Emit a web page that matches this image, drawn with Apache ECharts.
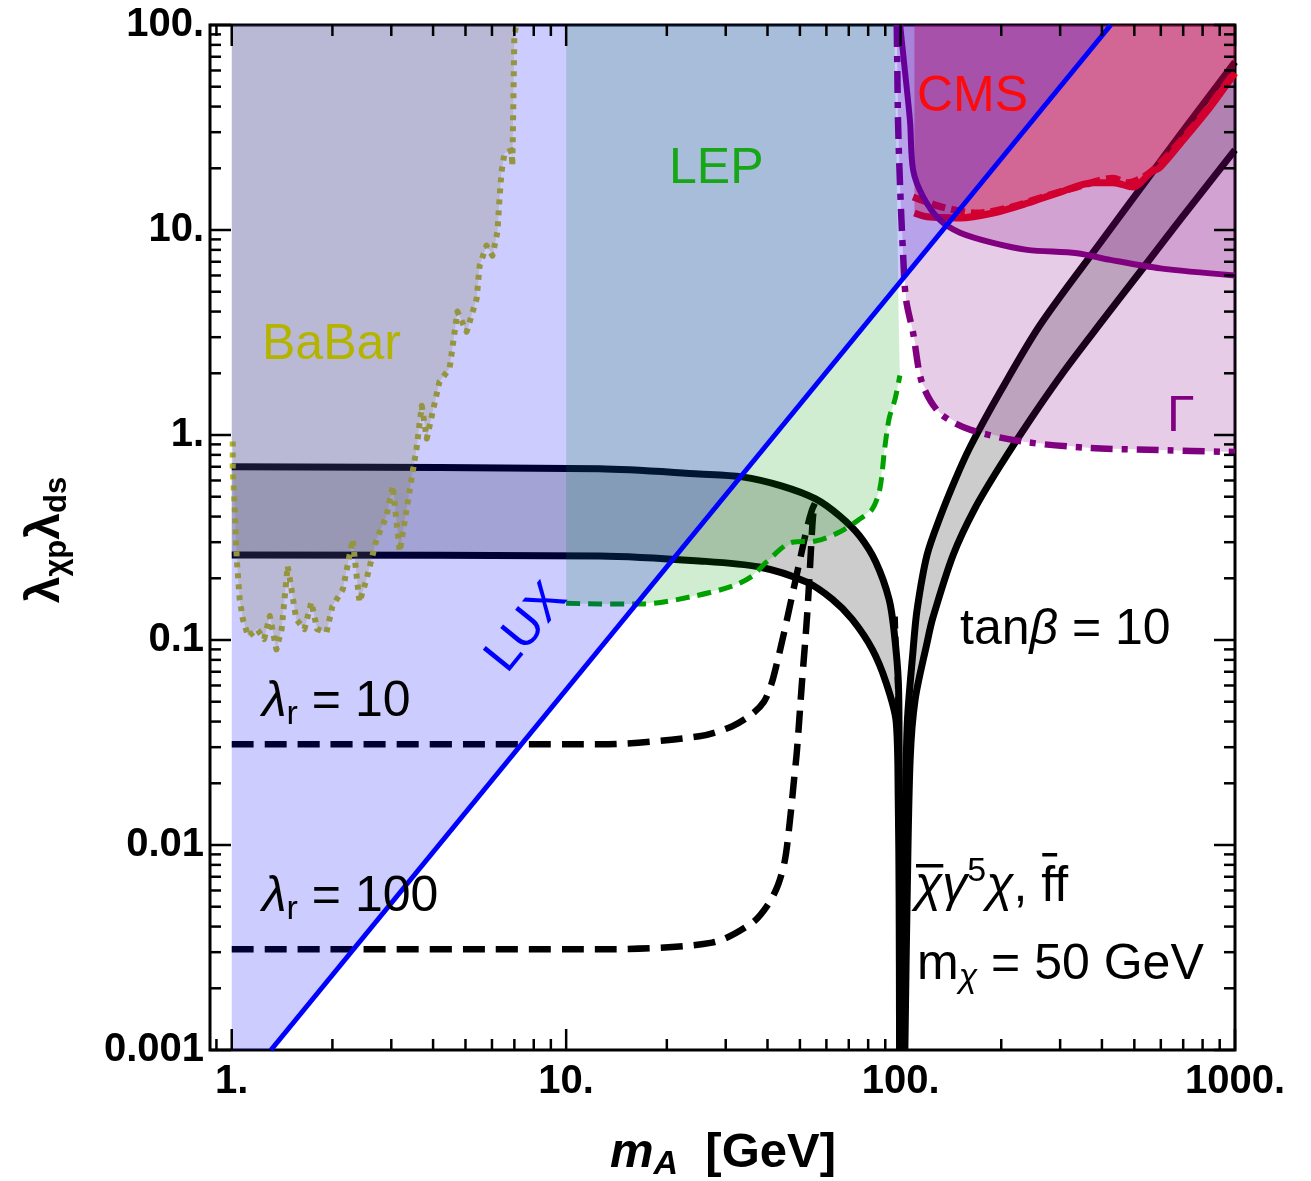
<!DOCTYPE html>
<html>
<head>
<meta charset="utf-8">
<script src="https://cdn.jsdelivr.net/npm/echarts@6/dist/echarts.min.js"></script>
<style>
  html, body { margin: 0; padding: 0; background: #fff; }
  #chart { width: 1311px; height: 1181px; }
</style>
</head>
<body>
<div id="chart"></div>
<script>
/* axis ranges and ticks */
const xMin = 0.861, xMax = 1000;
const yMin = 0.001, yMax = 100;
const xTicks = [1, 10, 100, 1000];
const xTickLabels = ['1.', '10.', '100.', '1000.'];
const yTicks = [0.001, 0.01, 0.1, 1, 10, 100];
const yTickLabels = ['0.001', '0.01', '0.1', '1.', '10.', '100.'];
const xMinor = [0.9, 2, 3, 4, 5, 6, 7, 8, 9, 20, 30, 40, 50, 60, 70, 80, 90,
  200, 300, 400, 500, 600, 700, 800, 900];
const yMinor = [0.002, 0.003, 0.004, 0.005, 0.006, 0.007, 0.008, 0.009,
  0.02, 0.03, 0.04, 0.05, 0.06, 0.07, 0.08, 0.09,
  0.2, 0.3, 0.4, 0.5, 0.6, 0.7, 0.8, 0.9,
  2, 3, 4, 5, 6, 7, 8, 9,
  20, 30, 40, 50, 60, 70, 80, 90];

/* LUX bound (straight line on log-log) */
const luxLine = [[1.31, 0.001], [425, 100]];

/* BaBar bound (dotted) */
const babarLine = [
  [1.007, 0.93], [1.007, 0.68], [1.02, 0.45], [1.035, 0.25], [1.056, 0.158], [1.08, 0.126],
  [1.12, 0.104], [1.19, 0.113], [1.25, 0.101], [1.3, 0.131], [1.36, 0.09], [1.41, 0.113],
  [1.47, 0.23], [1.56, 0.126], [1.65, 0.113], [1.73, 0.153], [1.8, 0.113], [1.92, 0.109],
  [2.0, 0.146], [2.15, 0.177], [2.3, 0.31], [2.41, 0.153], [2.53, 0.198], [2.71, 0.31],
  [2.9, 0.4], [3.03, 0.565], [3.18, 0.27], [3.4, 0.53], [3.57, 0.86], [3.7, 1.39],
  [3.83, 0.96], [3.99, 1.3], [4.18, 1.82], [4.48, 2.11], [4.73, 4.0], [5.04, 3.19],
  [5.4, 4.63], [5.51, 6.7], [5.78, 8.4], [6.02, 7.5], [6.23, 9.8], [6.32, 14.3],
  [6.41, 19.3], [6.54, 23.7], [6.87, 24.5], [6.9, 20.5], [6.92, 26], [7.0, 90], [7.1, 100]
];

/* LEP bound (green dashed) and its right edge */
const lepLine = [
  [10, 0.151], [12.6, 0.15], [17.1, 0.15], [23.4, 0.162], [31.4, 0.183], [36, 0.205],
  [39.7, 0.24], [47.5, 0.30], [55.7, 0.304], [65.7, 0.336], [75.5, 0.389], [82.3, 0.435],
  [86.7, 0.546], [89.6, 0.857], [92.4, 1.2], [96.3, 1.5], [99.5, 1.95]
];
const lepRightEdge = [[98.7, 3.7], [97, 30], [95.7, 100]];

/* relic band below the resonance */
const bandLowUpper = [
  [1, 0.70], [12.6, 0.684], [25, 0.646], [33.6, 0.625], [44, 0.565], [55.7, 0.488],
  [65.7, 0.403], [75.5, 0.321], [84.3, 0.24], [92.4, 0.158], [95.7, 0.109], [98.5, 0.062],
  [99.0, 0.030], [99.4, 0.01], [99.6, 0.001]
];
const bandLowLower = [
  [1, 0.26], [12.6, 0.257], [25, 0.243], [37.8, 0.227], [52.2, 0.192], [62.5, 0.158],
  [71.7, 0.126], [82.3, 0.09], [90.5, 0.062], [97, 0.04], [98.4, 0.0167], [99, 0.0054],
  [99.3, 0.001]
];
/* relic band above the resonance */
const bandHighLeft = [
  [101.5, 0.001], [103.2, 0.0085], [104.6, 0.0377], [109, 0.0894], [112, 0.14], [120, 0.26],
  [131.3, 0.398], [145.5, 0.603], [161.4, 0.874], [198.4, 1.62], [261.3, 3.44], [395, 8.64],
  [520, 15.85], [685, 29.1], [1000, 66]
];
const bandHighRight = [
  [103, 0.001], [104.6, 0.0054], [106.8, 0.026], [110.5, 0.051], [120, 0.097], [125, 0.129],
  [143.6, 0.26], [167, 0.44], [198.4, 0.706], [243.9, 1.184], [310.5, 2.08], [403, 3.64],
  [520, 6.24], [685, 11.2], [1000, 24.6]
];

/* lambda_r dashed curves */
const lambda10 = [
  [1, 0.031], [12.6, 0.031], [25, 0.0339], [31.4, 0.038], [36, 0.0436], [39.0, 0.0499],
  [41.0, 0.0603], [42.7, 0.0773], [44.8, 0.108], [47.3, 0.162], [50.0, 0.2456],
  [52.5, 0.352], [54.3, 0.43], [55.5, 0.466]
];
const lambda100 = [
  [1, 0.0031], [12.6, 0.0031], [27.3, 0.00334], [36.0, 0.00417], [40.1, 0.0051],
  [43.0, 0.00638], [45.1, 0.00845], [46.7, 0.01325], [48.0, 0.0207], [49.0, 0.029],
  [50.7, 0.0617], [52.5, 0.129], [53.6, 0.227], [54.7, 0.398], [55.5, 0.466]
];
const resonanceDash = [[96.5, 0.13], [98.3, 0.04], [99.0, 0.01], [99.3, 0.001]];

/* width bounds (Gamma) */
const gammaDashDot = [
  [97.4, 100], [97.8, 60], [98.3, 33], [99.7, 16], [101.7, 7.7], [103.8, 4.6], [109, 3.15],
  [116, 1.79], [131, 1.28], [162, 1.06], [236, 0.925], [371, 0.864], [589, 0.845], [1000, 0.826]
];
const gammaSolid = [
  [99.7, 100], [103, 60], [106.7, 34], [109, 19.6], [116.8, 14.5], [131, 11.2], [150.6, 9.7],
  [189, 8.65], [239, 8.0], [337, 7.7], [424, 7.15], [598, 6.5], [1000, 6.0]
];

/* CMS bounds */
const cmsSolid = [
  [110, 12.1], [120, 11.6], [150.6, 11.45], [189, 12.1], [239, 13.5], [300, 15.3],
  [377, 17.0], [432, 17.0], [496, 16.2], [558, 19.0], [598, 20.3], [700, 27.5],
  [843, 39.8], [1000, 58.3]
];
const cmsDashed = [
  [109, 14.5], [134, 12.9], [169, 12.1], [213, 12.9], [267, 14.5], [337, 16.2], [432, 17.9],
  [476, 17.0], [532, 18.1], [598, 21.2], [700, 28.1], [843, 40.7], [1000, 59.6]
];

const F = "'Liberation Sans', Arial, Helvetica, sans-serif";

function region(pts, fill, z) {
    return {
        type: 'custom', z: z, silent: true, clip: true,
        data: pts,
        renderItem: function (params, api) {
            if (params.dataIndex !== 0) return null;
            return {
                type: 'polygon',
                shape: { points: pts.map(function (p) { return api.coord(p); }) },
                style: { fill: fill }
            };
        }
    };
}

function curve(pts, color, width, dash, z, smooth) {
    return {
        type: 'line', data: pts, z: z, silent: true, symbol: 'none', showSymbol: false,
        smooth: smooth || 0,
        lineStyle: { color: color, width: width, type: dash || 'solid', cap: 'butt', join: 'round' }
    };
}

function xTickSeries(values, len) {
    return {
        type: 'custom', z: 20, silent: true, clip: false,
        data: values.map(function (v) { return [v, 1]; }),
        renderItem: function (params, api) {
            const cs = params.coordSys;
            const px = api.coord([api.value(0), 1])[0];
            const st = { stroke: '#000', lineWidth: 2.5 };
            return { type: 'group', children: [
                { type: 'line', shape: { x1: px, y1: cs.y + cs.height, x2: px, y2: cs.y + cs.height - len }, style: st },
                { type: 'line', shape: { x1: px, y1: cs.y, x2: px, y2: cs.y + len }, style: st }
            ] };
        }
    };
}

function yTickSeries(values, len) {
    return {
        type: 'custom', z: 20, silent: true, clip: false,
        data: values.map(function (v) { return [1, v]; }),
        renderItem: function (params, api) {
            const cs = params.coordSys;
            const py = api.coord([1, api.value(1)])[1];
            const st = { stroke: '#000', lineWidth: 2.5 };
            return { type: 'group', children: [
                { type: 'line', shape: { x1: cs.x, y1: py, x2: cs.x + len, y2: py }, style: st },
                { type: 'line', shape: { x1: cs.x + cs.width, y1: py, x2: cs.x + cs.width - len, y2: py }, style: st }
            ] };
        }
    };
}

function tickText(ticks, labels) {
    return function (v) {
        for (let i = 0; i < ticks.length; i++) {
            if (Math.abs(Math.log10(v / ticks[i])) < 1e-6) return labels[i];
        }
        return '';
    };
}

/* regions */
const luxRegion = [[1, yMin]].concat(luxLine, [[1, yMax]]);
const babarRegion = babarLine.concat([[1, yMax], [1, babarLine[0][1]]]);
const lepRegion = [[lepLine[0][0], yMax]].concat(lepLine, lepRightEdge);
const bandLow = bandLowUpper.concat(bandLowLower.slice().reverse());
const bandHigh = bandHighLeft.concat(bandHighRight.slice().reverse());
const gammaWide = gammaDashDot.concat([[xMax, yMax]]);
const gammaNarrow = gammaSolid.concat([[xMax, yMax]]);
const cmsRegion = [[cmsSolid[0][0], yMax]].concat(cmsSolid, [[xMax, yMax]]);

const S = 50, SS = 34;
function tok(extra) {
    return Object.assign({ fontSize: S, lineHeight: S, fontFamily: F, fill: '#000', color: '#000' }, extra || {});
}
const labelRich = {
    n: tok(),
    i: tok({ fontStyle: 'italic' }),
    sub: tok({ fontSize: SS, lineHeight: SS, padding: [25, 0, 0, 0] }),
    subi: tok({ fontSize: SS, lineHeight: SS, fontStyle: 'italic', padding: [25, 0, 0, 0] }),
    sup: tok({ fontSize: SS, lineHeight: SS, padding: [0, 0, 31, 0] })
};

function label(x, y, text, color, opts) {
    const o = opts || {};
    return {
        type: 'text', x: x, y: y, rotation: o.rotation || 0, z: 100, silent: true,
        style: {
            text: text, rich: o.rich, fill: color, fontSize: o.size || S, fontFamily: F,
            fontWeight: o.weight || 'normal',
            align: o.align || 'left', verticalAlign: 'middle'
        }
    };
}

/* overbars for the operator label, measured from the same fonts */
const mctx = document.createElement('canvas').getContext('2d');
function textWidth(str, font) { mctx.font = font; return mctx.measureText(str).width; }
const opX = 915;
const fItalic = 'italic ' + S + 'px ' + F, fReg = S + 'px ' + F, fSup = SS + 'px ' + F;
const chiW = textWidth('χ', fItalic);
const fStart = opX + textWidth('χγ', fItalic) + textWidth('5', fSup) + textWidth('χ', fItalic) + textWidth(', ', fReg);
const fW = textWidth('f', fReg);

const chart = echarts.init(document.getElementById('chart'), null, { renderer: 'canvas' });
chart.setOption({
    animation: false,
    backgroundColor: '#fff',
    grid: { left: 210, top: 25, width: 1025, height: 1025, show: true, borderColor: '#000', borderWidth: 3, backgroundColor: 'transparent' },
    xAxis: {
        type: 'log', logBase: 10, min: xMin, max: xMax,
        axisLine: { show: false }, axisTick: { show: false }, splitLine: { show: false },
        axisLabel: {
            formatter: tickText(xTicks, xTickLabels), margin: 12, color: '#000',
            fontSize: 40, fontWeight: 'bold', fontFamily: F, showMinLabel: true, showMaxLabel: true
        }
    },
    yAxis: {
        type: 'log', logBase: 10, min: yMin, max: yMax,
        axisLine: { show: false }, axisTick: { show: false }, splitLine: { show: false },
        axisLabel: {
            formatter: tickText(yTicks, yTickLabels), margin: 6, color: '#000',
            fontSize: 40, fontWeight: 'bold', fontFamily: F, showMinLabel: true, showMaxLabel: true
        }
    },
    series: [
        region(bandLow, 'rgba(0,0,0,0.2)', 1),
        region(bandHigh, 'rgba(0,0,0,0.2)', 1),
        curve(bandLowUpper, '#000', 7, 'solid', 2, 0.3),
        curve(bandLowLower, '#000', 7, 'solid', 2, 0.3),
        curve(bandHighLeft, '#000', 7, 'solid', 2, 0.3),
        curve(bandHighRight, '#000', 7, 'solid', 2, 0.3),
        curve(lambda10, '#000', 6.5, [22, 11], 2, 0.3),
        curve(lambda100, '#000', 6.5, [22, 11], 2, 0.3),
        curve(resonanceDash, '#000', 5, [12, 8], 2, 0.3),
        region(babarRegion, 'rgba(140,140,0,0.2)', 3),
        curve(babarLine, '#bbbb10', 6, [5, 6], 3, 0),
        region(lepRegion, 'rgba(0,155,0,0.18)', 4),
        curve(lepLine, '#00a000', 5, [14, 8], 4, 0.3),
        region(cmsRegion, 'rgba(255,0,0,0.37)', 4),
        curve(cmsSolid, '#ff0000', 7, 'solid', 5, 0.3),
        curve(cmsDashed, '#ff0000', 7, [14, 6], 5, 0.3),
        region(gammaWide, 'rgba(128,0,128,0.2)', 6),
        region(gammaNarrow, 'rgba(128,0,128,0.2)', 6),
        curve(gammaDashDot, '#800080', 6.5, [22, 9, 6, 9], 7, 0.3),
        curve(gammaSolid, '#800080', 6, 'solid', 7, 0.3),
        region(luxRegion, 'rgba(0,0,255,0.2)', 8),
        curve(luxLine, '#0000ff', 5, 'solid', 9, 0),
        xTickSeries(xMinor, 11),
        xTickSeries(xTicks, 21),
        yTickSeries(yMinor, 11),
        yTickSeries(yTicks, 21)
    ],
    graphic: [
        label(262, 345.5, 'BaBar', '#b4b400'),
        label(669, 169.5, 'LEP', '#16a616'),
        label(917, 97.5, 'CMS', '#ff0a0a'),
        label(1167, 417.5, 'Γ', '#800080'),
        label(527, 628, 'LUX', '#0000ff', { align: 'center', rotation: 51 * Math.PI / 180 }),
        label(262, 702.5, '{i|λ}{sub|r}{n| = 10}', '#000', { rich: labelRich }),
        label(262, 897.5, '{i|λ}{sub|r}{n| = 100}', '#000', { rich: labelRich }),
        label(960, 630.5, '{n|tan}{i|β}{n| = 10}', '#000', { rich: labelRich }),
        label(opX, 887.5, '{i|χγ}{sup|5}{i|χ}{n|, ff}', '#000', { rich: labelRich }),
        label(917, 965.5, '{n|m}{subi|χ}{n| = 50 GeV}', '#000', { rich: labelRich }),
        { type: 'rect', z: 100, silent: true, shape: { x: opX + 1, y: 864, width: chiW, height: 3.5 }, style: { fill: '#000' } },
        { type: 'rect', z: 100, silent: true, shape: { x: fStart + 1, y: 853, width: fW + 1, height: 3.5 }, style: { fill: '#000' } },
        label(723, 1153, '{mi|m}{ai|A}{b|  [GeV]}', '#000', {
            align: 'center',
            rich: {
                mi: { fontSize: 49, lineHeight: 49, fontFamily: F, fontWeight: 'bold', fontStyle: 'italic', fill: '#000' },
                ai: { fontSize: 34, lineHeight: 34, fontFamily: F, fontWeight: 'bold', fontStyle: 'italic', fill: '#000', padding: [24, 0, 0, 0] },
                b: { fontSize: 49, lineHeight: 49, fontFamily: F, fontWeight: 'bold', fill: '#000' }
            }
        }),
        label(46, 540, '{l|λ}{s|χp}{l|λ}{s|ds}', '#000', {
            align: 'center', rotation: Math.PI / 2,
            rich: {
                l: { fontSize: 48, lineHeight: 48, fontFamily: F, fontWeight: 'bold', fill: '#000' },
                s: { fontSize: 31, lineHeight: 31, fontFamily: F, fontWeight: 'bold', fill: '#000', padding: [23, 0, 0, 0] }
            }
        })
    ]
});
</script>
</body>
</html>
